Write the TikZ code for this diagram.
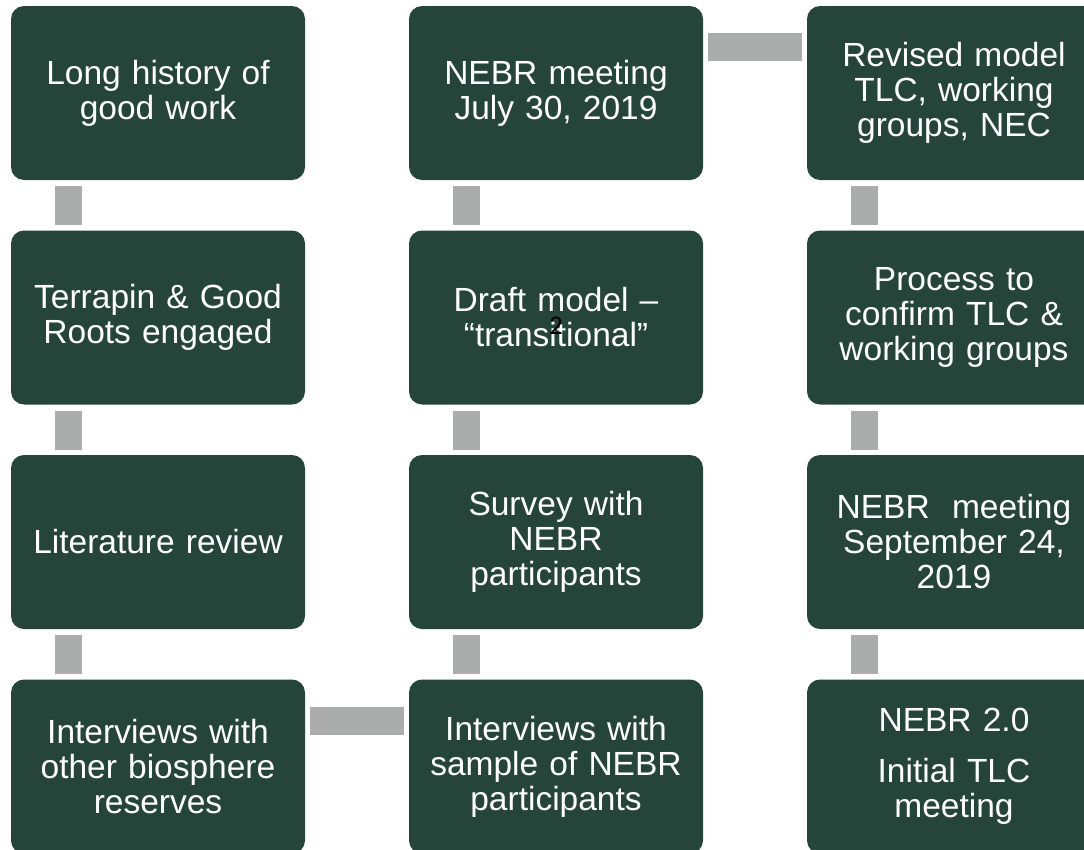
\documentclass[tikz,border=0pt]{standalone}
\usepackage{fontspec}
\setmainfont{Liberation Sans}
\newfontfamily\numfont{Carlito}
\definecolor{boxgreen}{RGB}{37,69,58}
\definecolor{linkgray}{RGB}{170,173,172}
\begin{document}
\begin{tikzpicture}[x=1pt,y=-1pt,
  stage/.style={fill=boxgreen, draw=none, rounded corners=13pt,
    minimum width=294pt, minimum height=174pt, inner sep=0pt,
    text=white, text width=288pt, align=center,
    font=\fontsize{33.5}{35}\selectfont},
  vlink/.style={draw=linkgray, line width=27pt},
  hlink/.style={draw=linkgray, line width=28pt}]
\useasboundingbox (0,0) rectangle (1084,849);
\clip (0,0) rectangle (1084,849);

% column 1
\node[stage] (a1) at (158,93)    {Long history of\\good work};
\node[stage] (a2) at (158,317.5) {Terrapin \& Good\\Roots engaged};
\node[stage] (a3) at (158,542)   {Literature review};
\node[stage] (a4) at (158,766.5) {Interviews with\\other biosphere\\reserves};
% column 2
\node[stage] (b1) at (556,93)    {NEBR meeting\\July 30, 2019};
\node[stage] (b2) at (556,317.5) {Draft model --\\``transitional''};
\node[stage] (b3) at (556,542)   {Survey with\\NEBR\\participants};
\node[stage] (b4) at (556,766.5) {Interviews with\\sample of NEBR\\participants};
% column 3
\node[stage] (c1) at (954,93)    {Revised model\\TLC, working\\groups, NEC};
\node[stage] (c2) at (954,317.5) {Process to\\confirm TLC \&\\working groups};
\node[stage] (c3) at (954,542)   {NEBR\ \ meeting\\September 24,\\2019};
\node[stage] (c4) at (954,766.5) {NEBR 2.0\\[16pt]Initial TLC\\meeting};

% vertical links inside each column
\foreach \u/\v in {a1/a2,a2/a3,a3/a4,b1/b2,b2/b3,b3/b4,c1/c2,c2/c3,c3/c4}
  \draw[vlink] ([xshift=57.5pt,yshift=-6pt]\u.south west) -- ([xshift=57.5pt,yshift=5pt]\v.north west);

% horizontal links between columns
\draw[hlink] ([xshift=5pt,yshift=-42pt]a4.north east) -- ([xshift=-5pt,yshift=-42pt]b4.north west);
\draw[hlink] ([xshift=5pt,yshift=-41pt]b1.north east) -- ([xshift=-5pt,yshift=-41pt]c1.north west);

% page number
\node[inner sep=0pt, font=\numfont\fontsize{27}{27}\selectfont] (pg) at (556,325.5) {2};
\end{tikzpicture}
\end{document}
